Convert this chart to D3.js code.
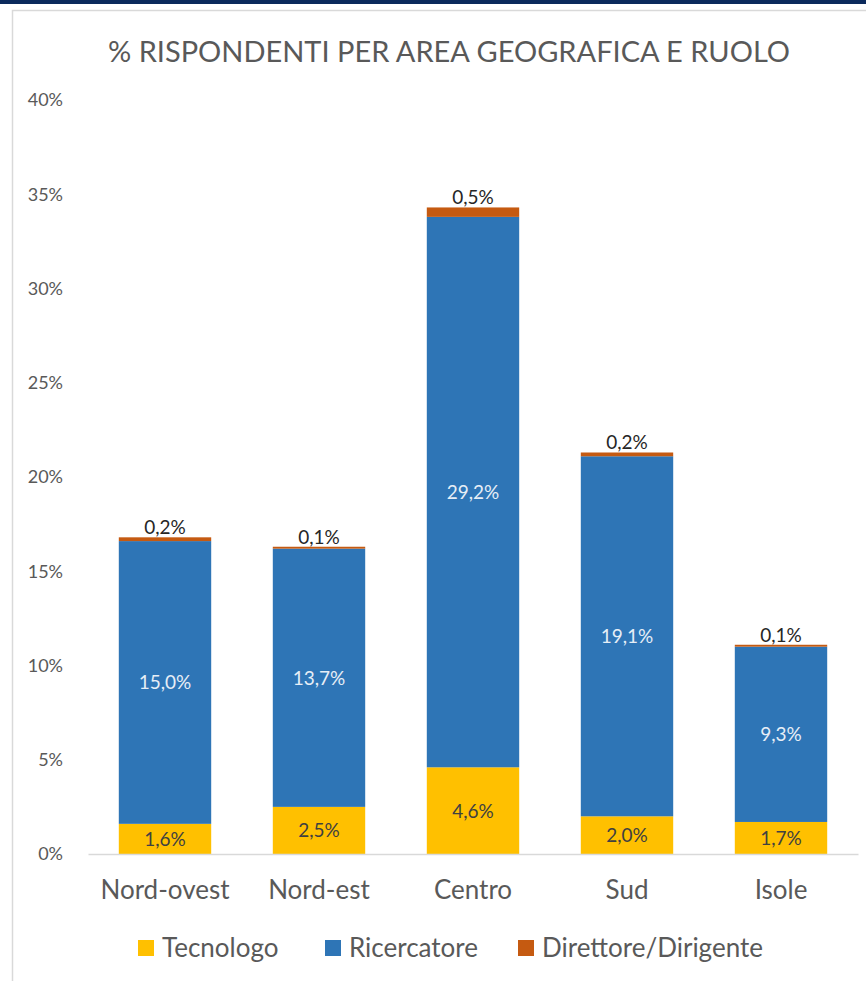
<!DOCTYPE html>
<html>
<head>
<meta charset="utf-8">
<script src="https://cdn.jsdelivr.net/npm/d3@7"></script>
<style>
  body { margin: 0; background: #fff; }
  text { font-family: Lato, "Open Sans", sans-serif; }
</style>
</head>
<body>
<div id="chart"></div>
<script>
// dati
var aree = ["Nord-ovest", "Nord-est", "Centro", "Sud", "Isole"];
var ruoli = ["Tecnologo", "Ricercatore", "Direttore/Dirigente"];
var tecnologo = [1.6, 2.5, 4.6, 2.0, 1.7];
var ricercatore = [15.0, 13.7, 29.2, 19.1, 9.3];
var direttore = [0.2, 0.1, 0.5, 0.2, 0.1];
var yTicks = [0, 5, 10, 15, 20, 25, 30, 35, 40];

var colori = ["#FFC000", "#2E75B6", "#C55A11"];
var coloriEtichette = ["#404040", "#E6EEF6", "#262626"];

var width = 866, height = 981;
var margin = { top: 100, left: 88, right: 8, bottom: 127 };

var svg = d3.select("#chart").append("svg")
    .attr("width", width)
    .attr("height", height);

// banda blu in alto e bordo del grafico
svg.append("rect").attr("x", 0).attr("y", 0).attr("width", width).attr("height", 4).attr("fill", "#0B2A5C");
svg.append("rect").attr("x", 12.5).attr("y", 10.5).attr("width", width).attr("height", height)
    .attr("fill", "none").attr("stroke", "#D9D9D9").attr("stroke-width", 1.5);

svg.append("text")
    .attr("x", 449).attr("y", 62)
    .attr("text-anchor", "middle")
    .attr("font-size", 29)
    .attr("fill", "#595959")
    .text("% RISPONDENTI PER AREA GEOGRAFICA  E RUOLO");

var rows = aree.map(function (a, i) {
    return { area: a, Tecnologo: tecnologo[i], Ricercatore: ricercatore[i], "Direttore/Dirigente": direttore[i] };
});
var stack = d3.stack().keys(ruoli)(rows);

var x = d3.scaleBand()
    .domain(aree)
    .range([margin.left, width - margin.right])
    .paddingInner(0.4)
    .paddingOuter(0.2);

var y = d3.scaleLinear()
    .domain([0, 40])
    .range([height - margin.bottom, margin.top]);

// asse y
svg.append("g")
    .attr("transform", "translate(" + (margin.left - 22) + ",0)")
    .call(d3.axisLeft(y).tickValues(yTicks).tickFormat(function (d) { return d + "%"; }).tickSize(0))
    .call(function (g) { g.select(".domain").remove(); })
    .selectAll("text")
    .attr("font-size", 18)
    .attr("fill", "#595959");

var layer = svg.selectAll(".layer")
    .data(stack)
    .enter().append("g")
    .attr("class", "layer")
    .attr("fill", function (d, i) { return colori[i]; });

layer.selectAll("rect")
    .data(function (d) { return d; })
    .enter().append("rect")
    .attr("x", function (d) { return x(d.data.area); })
    .attr("y", function (d) { return y(d[1]); })
    .attr("height", function (d) { return y(d[0]) - y(d[1]); })
    .attr("width", x.bandwidth());

// asse x
svg.append("g")
    .attr("transform", "translate(0," + (height - margin.bottom) + ")")
    .call(d3.axisBottom(x).tickSize(0).tickPadding(27))
    .call(function (g) { g.select(".domain").attr("stroke", "#D9D9D9").attr("stroke-width", 1.5); })
    .selectAll("text")
    .attr("font-size", 26)
    .attr("fill", "#595959");

// etichette dei valori
function fmt(v) { return v.toFixed(1).replace(".", ",") + "%"; }

stack.forEach(function (serie, si) {
    svg.append("g").selectAll("text")
        .data(serie)
        .enter().append("text")
        .attr("x", function (d) { return x(d.data.area) + x.bandwidth() / 2; })
        .attr("y", function (d) {
            if (si === 2) return y(d[1]) - 3;
            return (y(d[0]) + y(d[1])) / 2 + 7;
        })
        .attr("text-anchor", "middle")
        .attr("font-size", 19)
        .attr("fill", coloriEtichette[si])
        .text(function (d) { return fmt(d[1] - d[0]); });
});

// legenda
var legX = [138, 325, 518];
var leg = svg.append("g").selectAll("g")
    .data(ruoli)
    .enter().append("g")
    .attr("transform", function (d, i) { return "translate(" + legX[i] + ",940)"; });
leg.append("rect").attr("width", 16).attr("height", 16).attr("fill", function (d, i) { return colori[i]; });
leg.append("text").attr("x", 24).attr("y", 17).attr("font-size", 26).attr("fill", "#595959").text(function (d) { return d; });
</script>
</body>
</html>
